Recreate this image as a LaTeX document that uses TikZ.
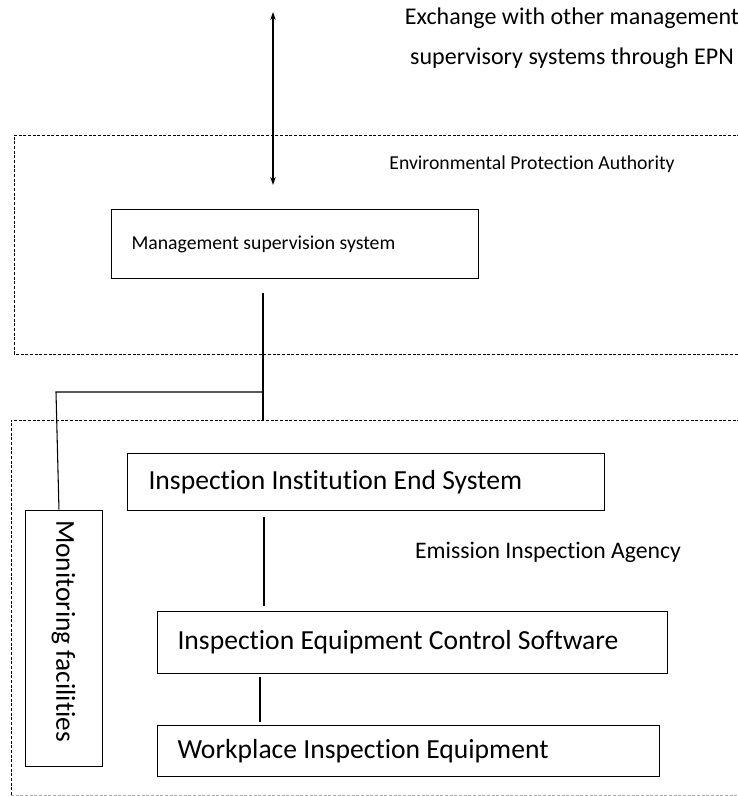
\documentclass[tikz,border=0pt]{standalone}
\usepackage{fontspec}
\setmainfont{Carlito}[Ligatures=NoCommon]
\usetikzlibrary{arrows.meta}

\begin{document}
\begin{tikzpicture}[x=0.75pt,y=0.75pt,yscale=-1,xscale=1,
  sysbox/.style={draw, line width=0.8pt, anchor=north west, inner ysep=0pt, align=flush left},
  bigtext/.style={font=\fontsize{20.7}{24}\selectfont},
  smalltext/.style={font=\fontsize{14.8}{17}\selectfont},
  midtext/.style={font=\fontsize{18}{30}\selectfont},
  region/.style={dash pattern={on 2.2pt off 1.3pt}, line width=0.6pt},
  link/.style={line width=0.8pt}]
\useasboundingbox (0,0) rectangle (738,796);
\clip (0,0) rectangle (738,796);

%Shape: Rectangle [id:authority]
\draw [region] (745,135) -- (14,135) -- (14,354) -- (745,354) ;
%Shape: Rectangle [id:agency]
\draw [region] (745,420) -- (11,420) -- (11,795) ;
\draw [region, color={rgb, 255:red, 170; green, 170; blue, 170 }] (11,795) -- (745,795) ;

% Text Node
\node (exch) [midtext, align=flush center] at (572,38) {Exchange with other management\\supervisory systems through EPN};
% Text Node
\node (epa) [smalltext] at (532,164) {Environmental Protection Authority};
% Text Node
\node (eia) [midtext, font=\fontsize{17.8}{20}\selectfont] at (548,552) {Emission Inspection Agency};

% Boxes
\node (mss) [sysbox, smalltext, minimum height=51.75pt, text width=245.25pt, inner xsep=15pt] at (111,209) {Management supervision system};
\node (iies) [sysbox, bigtext, minimum height=42.75pt, text width=326.25pt, inner xsep=15.75pt] at (127,453) {Inspection Institution End System};
\node (iecs) [sysbox, bigtext, minimum height=46.5pt, text width=352.5pt, inner xsep=15pt] at (157,611) {Inspection Equipment Control Software};
\node (wie) [sysbox, bigtext, minimum height=38.25pt, text width=346.5pt, inner xsep=15pt] at (157,725) {Workplace Inspection Equipment};
\node (mon) [draw, line width=0.7pt, font=\fontsize{20.5}{24}\selectfont, rotate=-90, minimum height=57.75pt, text width=177pt, inner xsep=7.5pt, inner ysep=0pt, align=flush left] at (63.5,638) {Monitoring facilities};

% Coordinates
\coordinate (top) at (273,12);
\coordinate (bus) at (263,392);
\coordinate (tap) at (56,392);

%Straight Lines [id:exchange]
\draw [link, {Stealth[length=6pt,width=4pt]}-{Stealth[length=6pt,width=4pt]}] (top) -- (273,185) ;
%Straight Lines [id:trunk]
\draw [link] ([yshift=10.5pt]mss.south -| bus) -- (bus) -- (bus |- 0,420) ;
\draw [link] (bus) -- (tap) -- ([xshift=-3.4pt]mon.west) ;
%Straight Lines [id:chain]
\draw [link] ([yshift=4.5pt]iies.south -| 264,0) -- ([yshift=-3.75pt]iecs.north -| 264,0) ;
\draw [link] ([yshift=2.25pt]iecs.south -| 260,0) -- ([yshift=-2.25pt]wie.north -| 260,0) ;

\end{tikzpicture}
\end{document}
